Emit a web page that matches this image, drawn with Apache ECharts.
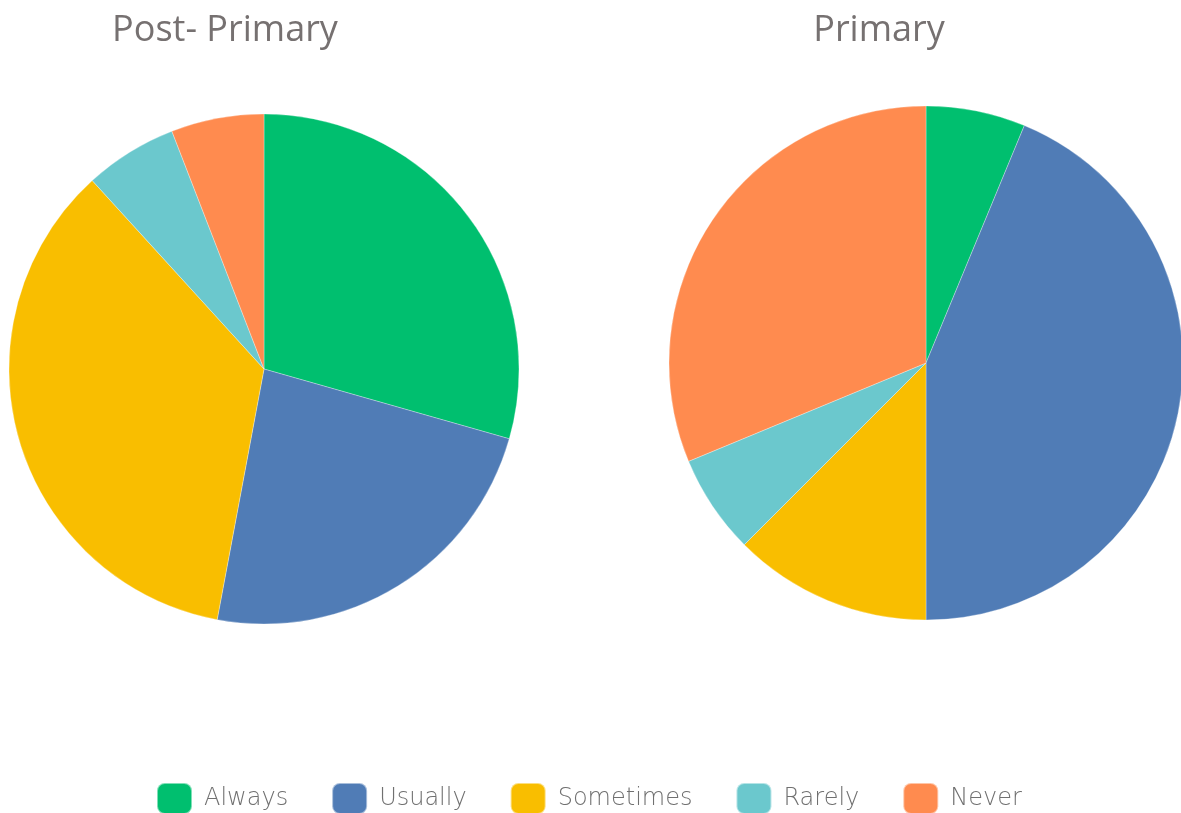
<!DOCTYPE html>
<html><head><meta charset="utf-8">
<script src="https://cdn.jsdelivr.net/npm/echarts@6/dist/echarts.min.js"></script>
<style>html,body{margin:0;padding:0;background:#fff}#c{width:1181px;height:813px}</style>
</head><body><div id="c"></div>
<script>
const categories = ['Always', 'Usually', 'Sometimes', 'Rarely', 'Never'];
const colors = ['#00BF6F', '#507CB6', '#F9BE00', '#6BC8CD', '#FF8B4F'];
const postPrimaryValues = [5, 4, 6, 1, 1];
const primaryValues = [1, 7, 2, 1, 5];
const titles = ['Post- Primary', 'Primary'];

const chart = echarts.init(document.getElementById('c'));
const mk = (vals) => categories.map((n, i) => ({ name: n, value: vals[i] }));
const pieBase = {
  type: 'pie', startAngle: 90, clockwise: true,
  label: { show: false }, labelLine: { show: false },
  emphasis: { disabled: true }, silent: true,
  itemStyle: { borderColor: 'rgba(255,255,255,0.5)', borderWidth: 0.6 }
};
const titleStyle = { fontFamily: 'Open Sans', fontSize: 36, fontWeight: 'normal', color: '#767171' };
chart.setOption({
  animation: false,
  color: colors,
  title: [
    { text: titles[0], left: 225, top: 13, padding: 0, textAlign: 'center', textStyle: titleStyle },
    { text: titles[1], left: 879, top: 13, padding: 0, textAlign: 'center', textStyle: titleStyle }
  ],
  legend: {
    data: categories, top: 782, left: 156, padding: 0, itemWidth: 35, itemHeight: 31, itemGap: 43,
    icon: 'roundRect',
    textStyle: { fontFamily: 'DejaVu Sans', fontWeight: 200, fontSize: 24, color: '#707070', padding: [0, 0, 0, 7] }
  },
  series: [
    Object.assign({}, pieBase, { name: titles[0], center: [264, 369], radius: 255, data: mk(postPrimaryValues) }),
    Object.assign({}, pieBase, { name: titles[1], center: [926, 363], radius: 257, data: mk(primaryValues) })
  ]
});
</script></body></html>
